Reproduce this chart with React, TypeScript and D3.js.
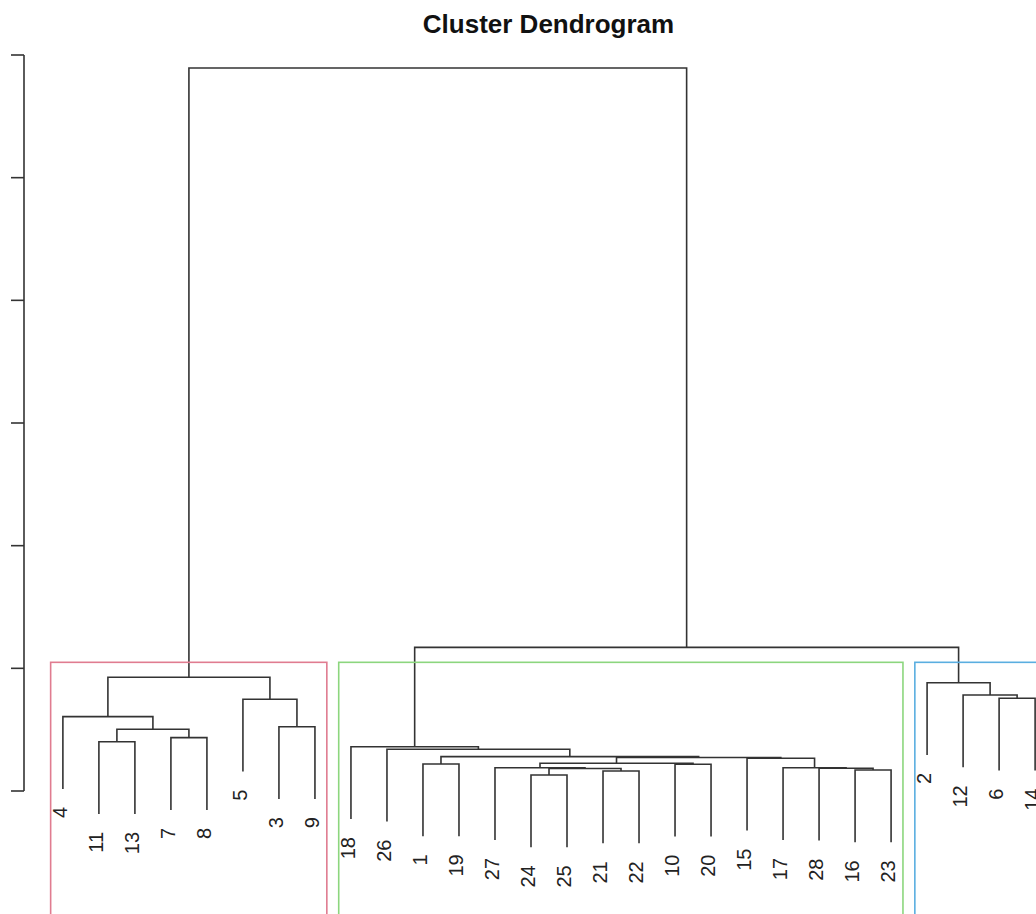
import React from "react";
import * as d3 from "d3";

// Leaf labels in dendrogram order (left to right)
const leafOrder: string[] = [
  "4", "11", "13", "7", "8", "5", "3", "9",
  "18", "26", "1", "19", "27", "24", "25", "21", "22", "10", "20", "15", "17", "28", "16", "23",
  "2", "12", "6", "14",
];

// Merge table in R hclust convention: negative = observation id, positive = 1-based merge row
const mergeLeft: number[] = [-24, -21, -16, 1, -28, -27, -17, -10, -1, 6, -15, 10, 9, -26, -18, -11, -7, 16, -3, -4, -5, -6, -12, -2, 20, 15, 25];
const mergeRight: number[] = [-25, -22, -23, 2, 3, 4, 5, -20, -19, 8, 7, 11, 12, 13, 14, -13, -8, 17, -9, 18, 19, -14, 22, 23, 21, 24, 26];
const mergeHeight: number[] = [
  0.130, 0.163, 0.171, 0.183, 0.185, 0.190, 0.190, 0.218, 0.220, 0.226,
  0.267, 0.273, 0.280, 0.340, 0.361, 0.402, 0.435, 0.503, 0.524, 0.606,
  0.748, 0.756, 0.783, 0.883, 0.927, 1.171, 5.894,
];

// Axis ticks (labels are outside the visible area)
const yTicks: number[] = [0, 1, 2, 3, 4, 5, 6];

// Cluster rectangles (k = 3): first and last leaf position (1-based order index)
const clusterStart: number[] = [1, 9, 25];
const clusterEnd: number[] = [8, 24, 28];
const clusterColors: string[] = ["#E07C90", "#8CD67E", "#5AAEE0"];

const title = "Cluster Dendrogram";

export default function App() {
  const W = 1036;
  const H = 914;
  const x = d3.scaleLinear().domain([-0.08, 29.08]).range([24, 1074]);
  const y = d3.scaleLinear().domain([0, 6]).range([791, 55]);

  const rootH = mergeHeight[mergeHeight.length - 1];
  const hang = 0.1 * rootH;

  const nodeX: number[] = [];
  const childX = (c: number) => (c < 0 ? x(leafOrder.indexOf(String(-c)) + 1) : nodeX[c - 1]);
  for (let i = 0; i < mergeLeft.length; i++) {
    nodeX.push((childX(mergeLeft[i]) + childX(mergeRight[i])) / 2);
  }

  const paths: string[] = [];
  const labels: { label: string; x: number; yEnd: number }[] = [];
  for (let i = 0; i < mergeLeft.length; i++) {
    const h = mergeHeight[i];
    const ends = [mergeLeft[i], mergeRight[i]].map((c) => {
      if (c < 0) {
        const lx = x(leafOrder.indexOf(String(-c)) + 1);
        const ye = y(h - hang);
        labels.push({ label: String(-c), x: lx, yEnd: ye });
        return { cx: lx, cy: ye };
      }
      return { cx: nodeX[c - 1], cy: y(mergeHeight[c - 1]) };
    });
    const yh = y(h);
    paths.push(`M${ends[0].cx},${ends[0].cy}V${yh}H${ends[1].cx}V${ends[1].cy}`);
  }

  const rectTop = y((mergeHeight[mergeHeight.length - 2] + mergeHeight[mergeHeight.length - 3]) / 2);

  return (
    <svg
      width={W}
      height={H}
      style={{ position: "absolute", left: 0, top: 0, background: "#fff" }}
      fontFamily="'Liberation Sans', Arial, sans-serif"
    >
      <rect x={0} y={0} width={W} height={H} fill="#fff" />
      <text x={548.5} y={33} textAnchor="middle" fontSize={26} fontWeight="bold" fill="#111">
        {title}
      </text>
      {/* y axis */}
      <g stroke="#333" strokeWidth={1.6} fill="none">
        <line x1={24} x2={24} y1={y(yTicks[0])} y2={y(yTicks[yTicks.length - 1])} />
        {yTicks.map((t) => (
          <line key={t} x1={11} x2={24} y1={y(t)} y2={y(t)} />
        ))}
      </g>
      {/* dendrogram */}
      <g stroke="#333" strokeWidth={1.6} fill="none">
        {paths.map((d, i) => (
          <path key={i} d={d} />
        ))}
      </g>
      {/* leaf labels */}
      <g fontSize={20} fill="#222">
        {labels.map((l) => (
          <text
            key={l.label}
            transform={`translate(${l.x},${l.yEnd + 18}) rotate(-90)`}
            textAnchor="end"
            dy="0.21em"
          >
            {l.label}
          </text>
        ))}
      </g>
      {/* cluster rectangles */}
      <g fill="none" strokeWidth={1.6}>
        {clusterStart.map((s, i) => (
          <rect
            key={i}
            x={x(s - 0.34)}
            y={rectTop}
            width={x(clusterEnd[i] + 0.33) - x(s - 0.34)}
            height={H + 50 - rectTop}
            stroke={clusterColors[i]}
          />
        ))}
      </g>
    </svg>
  );
}
